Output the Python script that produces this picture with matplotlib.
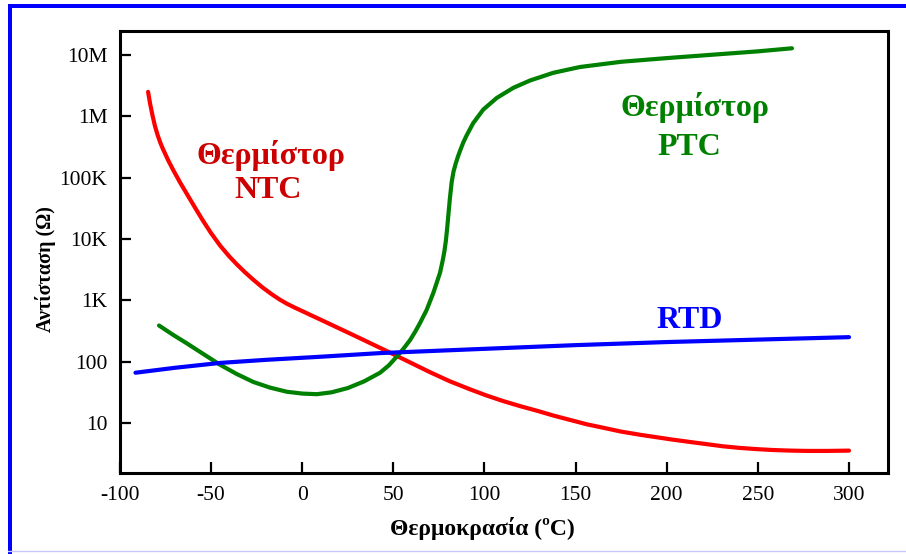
import matplotlib
matplotlib.use("Agg")
import matplotlib.pyplot as plt
from matplotlib.lines import Line2D
from matplotlib.patches import Rectangle

# ---- data (resistance given as log10 of ohms) ----
ntc_temp = [-84.6, -83.5, -82.2, -80.8, -79.3, -77.8, -76.4, -73.5, -70.9, -67.0, -63.0,
            -59.0, -54.5, -50.0, -45.0, -40.0, -36.0, -31.5, -27.0, -22.0, -17.0, -12.5,
            -8.4, -4.0, 0.0, 5.0, 9.7, 15.0, 20.0, 25.0, 30.0, 39.0, 48.0, 59.0, 70.0,
            81.0, 92.0, 101.0, 110.0, 119.0, 128.8, 138.0, 147.0, 156.0, 165.6, 175.0,
            185.0, 194.0, 203.0, 213.0, 222.0, 231.0, 239.7, 249.0, 258.0, 268.0, 277.0,
            288.0, 300.0]
ntc_log10_res = [6.40, 6.21, 6.02, 5.84, 5.69, 5.565, 5.465, 5.28, 5.13, 4.92, 4.72,
                 4.52, 4.30, 4.095, 3.89, 3.715, 3.59, 3.46, 3.34, 3.215, 3.105, 3.015,
                 2.945, 2.88, 2.825, 2.755, 2.69, 2.616, 2.546, 2.476, 2.406, 2.278, 2.15,
                 1.99, 1.83, 1.68, 1.55, 1.45, 1.36, 1.28, 1.20, 1.12, 1.05, 0.98, 0.92,
                 0.86, 0.81, 0.77, 0.73, 0.69, 0.655, 0.62, 0.595, 0.575, 0.56, 0.55, 0.545,
                 0.545, 0.55]

rtd_temp = [-91.5, -70.0, -45.0, -20.0, 9.7, 42.7, 92.0, 150.0, 200.0, 250.0, 300.0]
rtd_log10_res = [1.82, 1.90, 1.98, 2.03, 2.08, 2.14, 2.20, 2.27, 2.32, 2.36, 2.40]

ptc_temp = [-78.6, -71.0, -63.4, -54.0, -45.1, -36.0, -26.9, -18.0, -8.5, 0.0, 8.0, 16.0,
            25.0, 34.0, 42.7, 47.5, 51.8, 55.5, 59.1, 62.0, 64.6, 68.2, 71.9, 75.6, 77.0,
            78.0, 78.8, 79.5, 80.2, 81.0, 82.0, 83.0, 84.2, 85.5, 86.6, 88.3, 90.2, 93.8,
            99.3, 106.7, 115.8, 125.0, 137.7, 152.4, 175.0, 200.0, 225.0, 250.0, 268.7]
ptc_log10_res = [2.59, 2.44, 2.30, 2.12, 1.95, 1.80, 1.67, 1.58, 1.51, 1.48, 1.47, 1.50,
                 1.57, 1.68, 1.82, 1.94, 2.08, 2.21, 2.35, 2.49, 2.63, 2.84, 3.12, 3.45, 3.64,
                 3.80, 3.97, 4.17, 4.40, 4.66, 4.93, 5.10, 5.23, 5.35, 5.44, 5.57, 5.69, 5.89,
                 6.11, 6.30, 6.465, 6.585, 6.71, 6.805, 6.89, 6.95, 7.005, 7.06, 7.11]

ntc_res = [10 ** v for v in ntc_log10_res]
rtd_res = [10 ** v for v in rtd_log10_res]
ptc_res = [10 ** v for v in ptc_log10_res]

x_ticks = [-100, -50, 0, 50, 100, 150, 200, 250, 300]
y_ticks = [10, 100, 1e3, 1e4, 1e5, 1e6, 1e7]
y_tick_labels = ["10", "100", "1K", "10K", "100K", "1M", "10M"]

x_label = "Θερμοκρασία (ºC)"
y_label = "Αντίσταση (Ω)"

# ---- figure ----
W, H = 906, 554
fig = plt.figure(figsize=(W / 100, H / 100), dpi=100)
fig.patch.set_facecolor("white")

ax = fig.add_axes([120 / W, 1 - 473 / H, (888 - 120) / W, (473 - 30.5) / H])
ax.set_yscale("log")
ax.set_xlim(-100, 321.4)
ax.set_ylim(10 ** 0.185, 10 ** 7.40)

ax.plot(ntc_temp, ntc_res, color="#ff0000", lw=3, solid_capstyle="round",
        solid_joinstyle="round", zorder=3)
ax.plot(ptc_temp, ptc_res, color="#008000", lw=3, solid_capstyle="round",
        solid_joinstyle="round", zorder=3)
ax.plot(rtd_temp, rtd_res, color="#0000ff", lw=3, solid_capstyle="round",
        solid_joinstyle="round", zorder=4)

serif = ["Liberation Serif", "DejaVu Serif"]

ax.set_xticks(x_ticks)
ax.set_xticklabels([str(v) for v in x_ticks], fontfamily=serif, fontsize=15.5)
ax.set_yticks(y_ticks)
ax.set_yticklabels(y_tick_labels, fontfamily=serif, fontsize=15.5)
ax.minorticks_off()
ax.tick_params(axis="both", direction="in", length=8, width=1.6, color="black")
ax.tick_params(axis="x", pad=9)
ax.tick_params(axis="y", pad=9)
for s in ax.spines.values():
    s.set_linewidth(2.2)
    s.set_color("black")

fig.text(482 / W, 1 - 535 / H, x_label, ha="center", va="baseline",
         fontfamily=serif, fontsize=17, fontweight="bold")
fig.text(46 / W, 1 - 269 / H, y_label, ha="center", va="center", rotation=90,
         fontfamily=serif, fontsize=14.5, fontweight="bold")

# annotations
ann = dict(ha="center", va="baseline", fontfamily=serif, fontsize=23, fontweight="bold")
fig.text(271 / W, 1 - 164 / H, "Θερμίστορ", color="#cc0000", **ann)
fig.text(268 / W, 1 - 198 / H, "NTC", color="#cc0000", **ann)
fig.text(695 / W, 1 - 116 / H, "Θερμίστορ", color="#008000", **ann)
fig.text(689 / W, 1 - 155 / H, "PTC", color="#008000", **ann)
fig.text(690 / W, 1 - 328 / H, "RTD", color="#0000ff", **ann)

# blue frame decoration
fig.add_artist(Rectangle((8 / W, 0), 4 / W, 1 - 4 / H, transform=fig.transFigure,
                         facecolor="#0000ff", edgecolor="none"))
fig.add_artist(Rectangle((8 / W, 1 - 7.5 / H), 1 - 8 / W, 3.5 / H, transform=fig.transFigure,
                         facecolor="#0000ff", edgecolor="none"))
fig.add_artist(Line2D([8 / W, 1], [1 - 551 / H, 1 - 551 / H], transform=fig.transFigure,
                      color="#c8c8f8", lw=1))

fig.savefig("out.png", dpi=100)
